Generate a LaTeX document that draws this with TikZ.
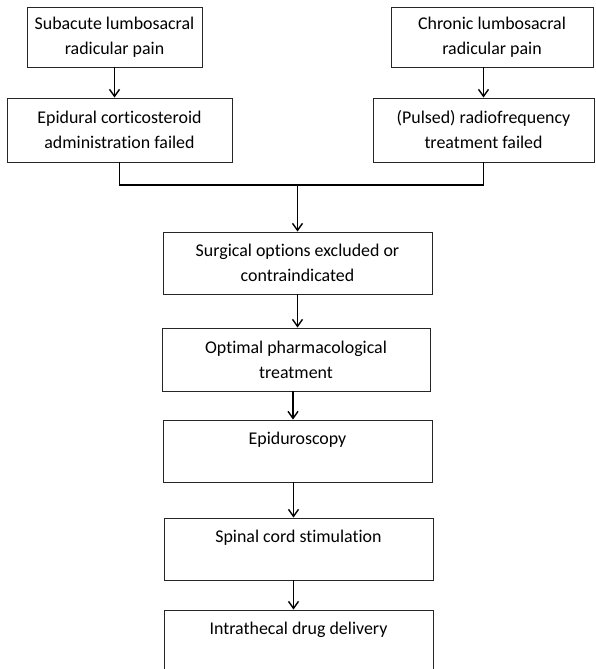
\documentclass[tikz,border=0pt]{standalone}
\usepackage{fontspec}
\setmainfont{Carlito}[Ligatures=NoCommon]
\usetikzlibrary{arrows.meta}

\begin{document}
\begin{tikzpicture}[x=1pt,y=-1pt,
    box/.style={draw=black!85, line width=0.9pt, align=center, inner sep=0pt,
        font=\fontsize{17.9}{25}\selectfont},
    link/.style={line width=1.6pt, -{Straight Barb[length=7pt,width=10pt,line width=1.4pt]}}]
\clip (0,0) rectangle (596,669);
\node[box, minimum width=175pt, minimum height=60pt] (sub) at (114.5,37) {Subacute lumbosacral\\radicular pain};
\node[box, minimum width=225pt, minimum height=64pt] (epi) at (119.5,130) {Epidural corticosteroid\\administration failed};
\node[box, minimum width=202pt, minimum height=60pt] (chr) at (492,37) {Chronic lumbosacral\\radicular pain};
\node[box, minimum width=221pt, minimum height=64pt] (pul) at (483.5,130) {(Pulsed) radiofrequency\\treatment failed};
\node[box, minimum width=269pt, minimum height=62pt] (sur) at (297.5,263) {Surgical options excluded or\\contraindicated};
\node[box, minimum width=268pt, minimum height=63pt] (opt) at (296,359.5) {Optimal pharmacological\\treatment};
\node[box, minimum width=269pt, minimum height=62pt] (epd) at (297.5,451) {Epiduroscopy\\\mbox{}};
\node[box, minimum width=269pt, minimum height=62pt] (spi) at (298.5,549) {Spinal cord stimulation\\\mbox{}};
\node[box, minimum width=269pt, minimum height=62pt] (int) at (298.5,641) {Intrathecal drug delivery\\\mbox{}};
\coordinate (mid) at (297.5,185);
\draw[link] (sub.south) -- (sub.south |- epi.north);
\draw[link] (pul.north |- chr.south) -- (pul.north);
\draw[line width=1.6pt] (epi.south) |- (mid) -| (pul.south);
\draw[link] (mid) -- (sur.north);
\draw[link] (sur.south) -- (sur.south |- opt.north);
\draw[link] ([xshift=-3pt]opt.south) -- ([xshift=-3pt]opt.south |- epd.north);
\draw[link] ([xshift=-4pt]epd.south) -- ([xshift=-4pt]epd.south |- spi.north);
\draw[link] ([xshift=-5pt]spi.south) -- ([xshift=-5pt]spi.south |- int.north);
\end{tikzpicture}
\end{document}
